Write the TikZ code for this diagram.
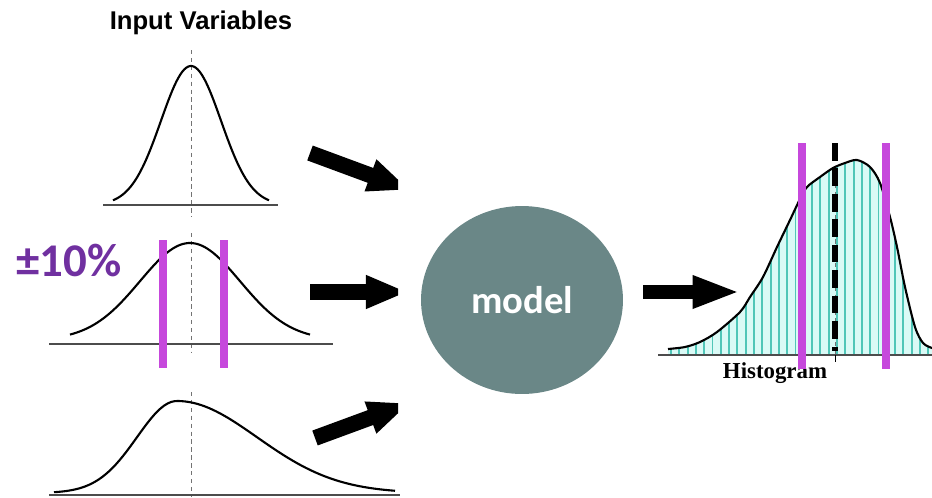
\documentclass[tikz,border=0pt]{standalone}
\usepackage{fontspec}
\setmainfont{Liberation Sans}
\newfontfamily\calfont{Carlito}
\newfontfamily\serffont{Liberation Serif}
\usetikzlibrary{arrows.meta,shapes.geometric}
\definecolor{modelc}{RGB}{106,135,135}
\definecolor{pctc}{RGB}{112,48,160}
\definecolor{bandc}{RGB}{198,72,220}
\definecolor{histc}{RGB}{218,250,246}
\definecolor{stripc}{RGB}{80,198,184}
\tikzset{
  curve/.style={line width=1.2pt,black,line join=round},
  axis/.style={line width=0.8pt,black!70},
  mid/.style={line width=0.5pt,black!55,dash pattern=on 2.5pt off 2pt},
  band/.style={line width=4.4pt,bandc},
  % block arrows; the tips are cut off short of the model
  flow/.style={-{Triangle[length=24pt,width=17.5pt]},line width=9pt,black},
}

\begin{document}
\begin{tikzpicture}[x=0.02cm,y=-0.02cm,
  modelnode/.style={ellipse,fill=modelc,minimum width=4.04cm,minimum height=3.76cm,inner sep=0pt,
    text=white,font=\calfont\bfseries\fontsize{22}{26}\selectfont},
  pctlabel/.style={font=\calfont\bfseries\fontsize{26.7}{30}\selectfont,text=pctc}]
  \useasboundingbox (0,0) rectangle (932,497);
  % ---- left: the input distributions ----
  \node[font=\bfseries\fontsize{14.6}{17}\selectfont] (title) at (201,23) {Input Variables};
  \draw[mid] (191,50) -- (191,217);
  \draw[axis] (103,205) -- (278,205);
  \draw[curve] plot[domain=113:269,samples=80] (\x,{205-139*exp(-0.5*((\x-191)/30)*((\x-191)/30))});
  \draw[mid] (191,233) -- (191,352);
  \draw[axis] (49,344) -- (333,344);
  \draw[curve] plot[domain=70:310,samples=80] (\x,{340-97*exp(-0.5*((\x-190)/50)*((\x-190)/50))});
  \draw[band] (163,240) -- (163,368);
  \draw[band] (224,240) -- (224,368);
  \node[pctlabel] (pct) at (69,261) {±10\%};
  \draw[mid] (191,392) -- (191,497);
  \draw[axis] (49,495) -- (400,495);
  \draw[curve] plot[domain=54:395,samples=100]
    (\x,{493-92*exp(-0.5*((\x-177)/ifthenelse(\x<177,40,80))*((\x-177)/ifthenelse(\x<177,40,80)))});
  % ---- arrows into and out of the model ----
  \coordinate (t1) at (310,153); \coordinate (h1) at (410,190);
  \coordinate (t2) at (310,292); \coordinate (h2) at (408,292);
  \coordinate (t3) at (315,438); \coordinate (h3) at (410,403);
  \begin{scope}
    \clip (0,0) rectangle (398,497);
    \draw[flow] (t1) -- (h1);
    \draw[flow] (t2) -- (h2);
    \draw[flow] (t3) -- (h3);
  \end{scope}
  \node[modelnode] (model) at (522,300) {model};
  \coordinate (t4) at (643,292); \coordinate (h4) at (740,292);
  \draw[flow,line width=8.5pt,-{Triangle[length=27pt,width=17pt]}] (t4) -- (h4);
  % ---- right: the output histogram ----
  \begin{scope}
    \clip plot[smooth] coordinates {(668,349) (685,347) (700,342) (717,332) (740,312) (750,297)
      (763,277) (777,247) (790,220) (800,199) (807,187) (820,177) (833,168) (845,163) (857,160)
      (870,167) (880,183) (890,217) (897,247) (905,287) (915,327) (923,343) (932,348)}
      -- (932,355) -- (668,355) -- cycle;
    \fill[histc] (660,140) rectangle (932,356);
    \foreach \k in {0,...,32}
      \draw[stripc,line width=1.1pt] ({671+8.3*\k},140) -- ++(0,220);
  \end{scope}
  \draw[axis] (658,355) -- (932,355);
  \draw[curve] plot[smooth] coordinates {(668,349) (685,347) (700,342) (717,332) (740,312) (750,297)
      (763,277) (777,247) (790,220) (800,199) (807,187) (820,177) (833,168) (845,163) (857,160)
      (870,167) (880,183) (890,217) (897,247) (905,287) (915,327) (923,343) (932,348)};
  \draw[mid] (835,168) -- (835,355);
  \draw[line width=3.4pt,dash pattern=on 10pt off 4.5pt] (835,143) -- (835,351);
  \draw[line width=0.5pt] (835,355) -- (835,362);
  \node[font=\serffont\bfseries\fontsize{13}{15}\selectfont] (hist) at (775,373) {Histogram};
  \draw[band] (802,143) -- (802,369);
  \draw[band] (886,143) -- (886,369);
\end{tikzpicture}
\end{document}
